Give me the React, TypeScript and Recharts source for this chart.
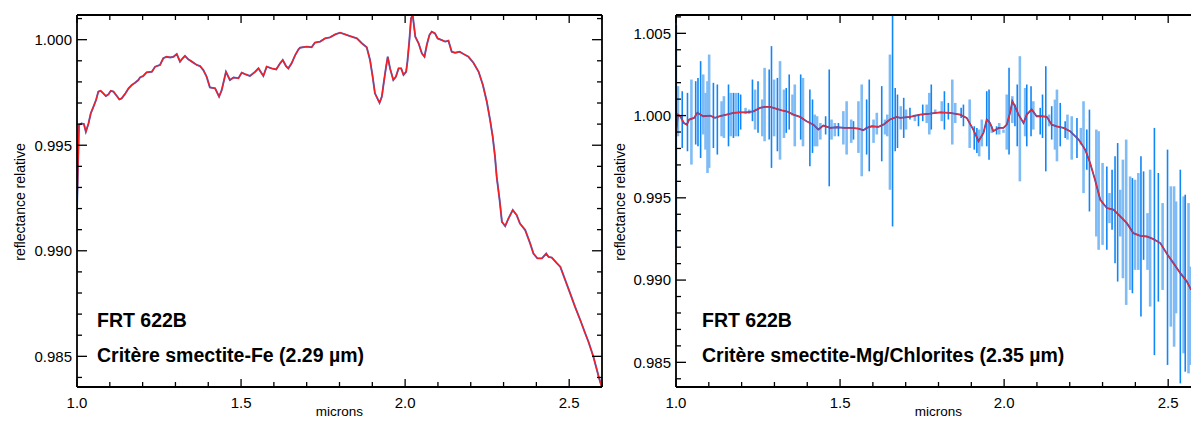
import { ComposedChart, Line, XAxis, YAxis, ErrorBar } from "recharts"

const FONT = '"Liberation Sans", Arial, Helvetica, sans-serif'

// wavelength (microns), relative reflectance -- critère smectite-Fe
const feSpectrum: [number, number][] = [
  [1.000, 0.99193], [1.006, 0.99596], [1.014, 0.99603], [1.021, 0.99600], [1.027, 0.99564],
  [1.035, 0.99603], [1.042, 0.99651], [1.050, 0.99682], [1.058, 0.99714], [1.065, 0.99754],
  [1.072, 0.99758], [1.080, 0.99746], [1.088, 0.99733], [1.096, 0.99741], [1.103, 0.99758],
  [1.111, 0.99754], [1.119, 0.99738], [1.129, 0.99717], [1.136, 0.99722], [1.146, 0.99742],
  [1.157, 0.99769], [1.167, 0.99785], [1.177, 0.99796], [1.187, 0.99809], [1.192, 0.99821],
  [1.202, 0.99828], [1.212, 0.99845], [1.228, 0.99848], [1.238, 0.99872], [1.253, 0.99880],
  [1.263, 0.99912], [1.273, 0.99919], [1.284, 0.99916], [1.294, 0.99919], [1.304, 0.99932],
  [1.314, 0.99896], [1.322, 0.99912], [1.329, 0.99923], [1.339, 0.99907], [1.350, 0.99896],
  [1.365, 0.99880], [1.375, 0.99875], [1.385, 0.99856], [1.395, 0.99825], [1.405, 0.99774],
  [1.421, 0.99769], [1.433, 0.99730], [1.441, 0.99761], [1.454, 0.99848], [1.466, 0.99809],
  [1.477, 0.99821], [1.492, 0.99817], [1.502, 0.99844], [1.512, 0.99837], [1.527, 0.99828],
  [1.543, 0.99848], [1.553, 0.99864], [1.568, 0.99828], [1.578, 0.99872], [1.593, 0.99864],
  [1.607, 0.99859], [1.619, 0.99888], [1.627, 0.99904], [1.637, 0.99875], [1.644, 0.99864],
  [1.654, 0.99888], [1.665, 0.99927], [1.675, 0.99954], [1.680, 0.99962], [1.700, 0.99967],
  [1.715, 0.99964], [1.725, 0.99986], [1.741, 0.99991], [1.756, 1.00006], [1.771, 1.00011],
  [1.787, 1.00025], [1.802, 1.00033], [1.817, 1.00025], [1.832, 1.00017], [1.853, 1.00006],
  [1.868, 0.99983], [1.883, 0.99964], [1.893, 0.99904], [1.901, 0.99825], [1.908, 0.99746],
  [1.922, 0.99701], [1.929, 0.99730], [1.936, 0.99809], [1.942, 0.99872], [1.947, 0.99919],
  [1.954, 0.99864], [1.964, 0.99809], [1.972, 0.99825], [1.980, 0.99864], [1.988, 0.99864],
  [1.995, 0.99833], [2.003, 0.99848], [2.007, 0.99896], [2.013, 0.99998], [2.018, 1.00101],
  [2.023, 1.00117], [2.031, 1.00014], [2.041, 0.99983], [2.051, 0.99935], [2.059, 0.99919],
  [2.066, 0.99975], [2.074, 1.00022], [2.081, 1.00038], [2.091, 1.00030], [2.099, 1.00006],
  [2.112, 0.99998], [2.122, 0.99991], [2.132, 0.99995], [2.142, 0.99943], [2.152, 0.99938],
  [2.166, 0.99943], [2.178, 0.99932], [2.193, 0.99919], [2.208, 0.99891], [2.224, 0.99848],
  [2.237, 0.99785], [2.249, 0.99706], [2.259, 0.99619], [2.267, 0.99540], [2.274, 0.99445],
  [2.279, 0.99351], [2.288, 0.99240], [2.295, 0.99137], [2.305, 0.99117], [2.315, 0.99153],
  [2.328, 0.99193], [2.340, 0.99169], [2.350, 0.99129], [2.366, 0.99098], [2.381, 0.99035],
  [2.391, 0.98987], [2.403, 0.98964], [2.417, 0.98964], [2.430, 0.98987], [2.437, 0.98971],
  [2.447, 0.98968], [2.463, 0.98940], [2.473, 0.98924], [2.488, 0.98861], [2.503, 0.98798],
  [2.518, 0.98734], [2.534, 0.98671], [2.549, 0.98608], [2.559, 0.98568], [2.574, 0.98497],
  [2.590, 0.98403], [2.600, 0.98350],
]

// smoothed spectrum -- critère smectite-Mg/Chlorites
const mgSpectrum: [number, number][] = [
  [1.000, 0.99895], [1.006, 1.00006], [1.013, 0.99996], [1.024, 0.99955], [1.033, 0.99945],
  [1.040, 0.99976], [1.055, 0.99986], [1.065, 1.00017], [1.083, 0.99996], [1.104, 1.00000],
  [1.119, 0.99986], [1.134, 0.99996], [1.154, 1.00006], [1.175, 1.00016], [1.195, 1.00020],
  [1.215, 1.00020], [1.236, 1.00026], [1.256, 1.00047], [1.271, 1.00053], [1.287, 1.00053],
  [1.307, 1.00041], [1.322, 1.00032], [1.337, 1.00026], [1.358, 1.00006], [1.378, 0.99992],
  [1.398, 0.99965], [1.419, 0.99945], [1.434, 0.99915], [1.449, 0.99939], [1.470, 0.99925],
  [1.490, 0.99929], [1.515, 0.99925], [1.536, 0.99925], [1.556, 0.99921], [1.571, 0.99911],
  [1.581, 0.99925], [1.597, 0.99935], [1.617, 0.99931], [1.632, 0.99945], [1.652, 0.99976],
  [1.673, 0.99992], [1.683, 0.99986], [1.713, 0.99992], [1.744, 1.00006], [1.774, 1.00012],
  [1.805, 1.00020], [1.835, 1.00016], [1.866, 1.00006], [1.886, 0.99986], [1.906, 0.99915],
  [1.922, 0.99844], [1.937, 0.99894], [1.947, 0.99976], [1.957, 0.99955], [1.967, 0.99905],
  [1.983, 0.99925], [1.998, 0.99925], [2.008, 0.99945], [2.018, 1.00016], [2.025, 1.00087],
  [2.033, 1.00057], [2.044, 1.00006], [2.059, 0.99955], [2.069, 1.00006], [2.084, 1.00037],
  [2.099, 0.99996], [2.115, 0.99996], [2.130, 0.99992], [2.145, 0.99945], [2.160, 0.99935],
  [2.181, 0.99925], [2.201, 0.99905], [2.227, 0.99854], [2.247, 0.99793], [2.262, 0.99712],
  [2.277, 0.99610], [2.293, 0.99488], [2.313, 0.99438], [2.333, 0.99428], [2.354, 0.99387],
  [2.374, 0.99346], [2.394, 0.99285], [2.415, 0.99269], [2.435, 0.99265], [2.455, 0.99249],
  [2.476, 0.99225], [2.496, 0.99160], [2.516, 0.99103], [2.537, 0.99042], [2.557, 0.98991],
  [2.570, 0.98940],
]

// error bars: wavelength, low, high, tone (d = vivid blue, l = pale blue)
const mgBars: [number, number, number, string][] = [
  [1.001, 0.99200, 1.00550, "d"], [1.006, 0.99874, 1.00179, "l"], [1.019, 0.99803, 1.00148, "d"],
  [1.035, 0.99783, 1.00138, "d"], [1.047, 0.99702, 1.00219, "l"], [1.060, 0.99824, 1.00209, "d"],
  [1.067, 0.99813, 1.00229, "d"], [1.075, 0.99742, 1.00331, "d"], [1.083, 0.99885, 1.00250, "l"],
  [1.090, 0.99793, 1.00138, "l"], [1.096, 0.99651, 1.00209, "l"], [1.101, 0.99682, 1.00371, "l"],
  [1.114, 0.99803, 1.00199, "d"], [1.126, 0.99763, 1.00189, "d"], [1.139, 0.99874, 1.00087, "l"],
  [1.146, 0.99864, 1.00118, "l"], [1.160, 0.99813, 1.00189, "d"], [1.167, 0.99874, 1.00138, "l"],
  [1.175, 0.99864, 1.00138, "d"], [1.182, 0.99874, 1.00138, "l"], [1.190, 0.99874, 1.00138, "d"],
  [1.197, 0.99915, 1.00128, "d"], [1.212, 1.00010, 1.00047, "l"], [1.223, 1.00010, 1.00037, "l"],
  [1.233, 0.99966, 1.00219, "d"], [1.241, 0.99915, 1.00158, "l"], [1.250, 0.99895, 1.00209, "d"],
  [1.263, 0.99874, 1.00098, "l"], [1.270, 0.99844, 1.00290, "l"], [1.284, 0.99854, 1.00280, "d"],
  [1.291, 0.99682, 1.00422, "d"], [1.299, 0.99874, 1.00219, "l"], [1.309, 0.99783, 1.00229, "d"],
  [1.317, 0.99732, 1.00331, "l"], [1.329, 0.99864, 1.00158, "l"], [1.336, 0.99895, 1.00168, "d"],
  [1.345, 0.99915, 1.00250, "d"], [1.355, 1.00000, 1.00128, "l"], [1.362, 0.99813, 1.00189, "l"],
  [1.380, 0.99854, 1.00250, "d"], [1.387, 0.99813, 1.00229, "l"], [1.408, 0.99692, 1.00158, "d"],
  [1.416, 0.99773, 1.00098, "d"], [1.423, 0.99813, 1.00006, "l"], [1.430, 0.99813, 0.99996, "l"],
  [1.440, 0.99854, 0.99955, "l"], [1.456, 0.99885, 0.99996, "d"], [1.467, 0.99570, 1.00280, "d"],
  [1.474, 0.99854, 0.99976, "l"], [1.484, 0.99874, 0.99955, "l"], [1.495, 0.99874, 0.99955, "d"],
  [1.510, 0.99824, 1.00027, "l"], [1.520, 0.99763, 1.00087, "l"], [1.534, 0.99834, 0.99976, "l"],
  [1.541, 0.99854, 0.99966, "d"], [1.556, 0.99773, 1.00087, "l"], [1.566, 0.99631, 1.00189, "l"],
  [1.581, 0.99763, 1.00098, "d"], [1.589, 0.99661, 1.00219, "d"], [1.602, 0.99834, 0.99976, "l"],
  [1.612, 0.99885, 1.00017, "l"], [1.627, 0.99722, 1.00179, "d"], [1.637, 0.99885, 0.99976, "l"],
  [1.644, 0.99874, 1.00006, "l"], [1.652, 0.99549, 1.00371, "l"], [1.660, 0.99326, 1.00611, "d"],
  [1.668, 0.99783, 1.00168, "d"], [1.675, 0.99803, 1.00128, "d"], [1.685, 0.99915, 1.00057, "l"],
  [1.694, 0.99864, 1.00108, "d"], [1.701, 0.99915, 1.00037, "l"], [1.713, 0.99976, 1.00047, "d"],
  [1.728, 0.99966, 1.00006, "l"], [1.739, 0.99935, 1.00006, "d"], [1.752, 0.99966, 1.00067, "d"],
  [1.764, 0.99955, 1.00067, "l"], [1.772, 0.99885, 1.00138, "l"], [1.778, 0.99915, 1.00189, "d"],
  [1.790, 1.00017, 1.00037, "l"], [1.810, 0.99966, 1.00087, "l"], [1.818, 0.99915, 1.00148, "d"],
  [1.830, 0.99976, 1.00077, "d"], [1.842, 0.99824, 1.00219, "l"], [1.851, 0.99955, 1.00077, "l"],
  [1.869, 0.99986, 1.00047, "d"], [1.876, 0.99935, 1.00067, "d"], [1.895, 0.99803, 1.00098, "l"],
  [1.909, 0.99793, 0.99935, "d"], [1.917, 0.99773, 0.99925, "d"], [1.924, 0.99752, 0.99915, "l"],
  [1.932, 0.99813, 0.99976, "l"], [1.947, 0.99813, 1.00148, "d"], [1.954, 0.99732, 1.00158, "d"],
  [1.962, 0.99895, 0.99935, "l"], [1.977, 0.99885, 0.99935, "d"], [1.985, 0.99885, 0.99955, "l"],
  [1.998, 0.99895, 0.99915, "l"], [2.008, 0.99793, 1.00128, "l"], [2.015, 0.99763, 1.00290, "d"],
  [2.025, 0.99955, 1.00118, "l"], [2.033, 0.99935, 1.00067, "d"], [2.040, 0.99813, 1.00189, "d"],
  [2.048, 0.99600, 1.00361, "l"], [2.064, 0.99874, 1.00168, "l"], [2.069, 0.99813, 1.00189, "d"],
  [2.082, 0.99874, 1.00179, "d"], [2.089, 0.99915, 1.00087, "l"], [2.110, 0.99885, 1.00047, "d"],
  [2.117, 0.99864, 1.00128, "d"], [2.127, 0.99661, 1.00300, "d"], [2.137, 0.99935, 1.00006, "l"],
  [2.145, 0.99854, 1.00057, "d"], [2.155, 0.99793, 1.00097, "l"], [2.161, 0.99722, 1.00158, "l"],
  [2.171, 0.99813, 1.00077, "d"], [2.186, 0.99864, 0.99965, "d"], [2.193, 0.99854, 1.00006, "l"],
  [2.206, 0.99732, 0.99996, "l"], [2.222, 0.99742, 0.99986, "d"], [2.234, 0.99823, 0.99925, "l"],
  [2.242, 0.99529, 1.00087, "l"], [2.252, 0.99671, 0.99915, "d"], [2.260, 0.99417, 1.00036, "d"],
  [2.281, 0.99265, 0.99915, "l"], [2.288, 0.99184, 0.99905, "l"], [2.300, 0.99214, 0.99712, "l"],
  [2.313, 0.99184, 0.99691, "d"], [2.321, 0.99346, 0.99529, "l"], [2.329, 0.99306, 0.99671, "d"],
  [2.338, 0.99103, 0.99752, "d"], [2.346, 0.98991, 0.99833, "d"], [2.354, 0.99265, 0.99549, "l"],
  [2.362, 0.99011, 0.99732, "l"], [2.372, 0.98849, 0.99854, "l"], [2.384, 0.98940, 0.99630, "l"],
  [2.391, 0.98920, 0.99620, "d"], [2.399, 0.99062, 0.99610, "l"], [2.409, 0.99062, 0.99651, "l"],
  [2.417, 0.98778, 0.99752, "d"], [2.425, 0.99123, 0.99661, "d"], [2.437, 0.99062, 0.99407, "l"],
  [2.445, 0.98839, 0.99671, "l"], [2.458, 0.98544, 0.99925, "d"], [2.470, 0.98869, 0.99651, "d"],
  [2.483, 0.98940, 0.99468, "l"], [2.498, 0.98484, 0.99793, "d"], [2.508, 0.98717, 0.99570, "l"],
  [2.518, 0.98595, 0.99570, "l"], [2.524, 0.98798, 0.99478, "l"], [2.537, 0.98372, 0.99671, "d"],
  [2.547, 0.98555, 0.99509, "l"], [2.552, 0.98443, 0.99519, "d"], [2.562, 0.98433, 0.99468, "l"],
  [2.567, 0.98484, 0.99082, "l"],
]

const xTicks = [1.0, 1.1, 1.2, 1.3, 1.4, 1.5, 1.6, 1.7, 1.8, 1.9, 2.0, 2.1, 2.2, 2.3, 2.4, 2.5, 2.6]
const xLabels = [1.0, 1.5, 2.0, 2.5]
const feYTicks = [0.984, 0.985, 0.986, 0.987, 0.988, 0.989, 0.99, 0.991, 0.992, 0.993, 0.994, 0.995, 0.996, 0.997, 0.998, 0.999, 1.0, 1.001]
const feYLabels = [0.985, 0.99, 0.995, 1.0]
const mgYTicks = [0.984, 0.985, 0.986, 0.987, 0.988, 0.989, 0.99, 0.991, 0.992, 0.993, 0.994, 0.995, 0.996, 0.997, 0.998, 0.999, 1.0, 1.001, 1.002, 1.003, 1.004, 1.005, 1.006]
const mgYLabels = [0.985, 0.99, 0.995, 1.0, 1.005]

const feData = feSpectrum.map(([x, y]) => ({ x, y }))
const mgData = mgSpectrum.map(([x, y]) => ({ x, y }))
const barData = mgBars.map(([x, lo, hi, tone]) => ({ x, y: (lo + hi) / 2, err: (hi - lo) / 2, tone }))
const paleBars = barData.filter((b) => b.tone === "l")
const vividBars = barData.filter((b) => b.tone === "d")

const near = (v: number, list: number[]) => list.some((l) => Math.abs(l - v) < 1e-6)
const frame = { stroke: "#000", strokeWidth: 1.8 }

const LeftTick = (p: any) => {
  const v = p.payload.value
  const major = near(v, p.labels)
  return (
    <g>
      <line x1={p.x} x2={p.x + (major ? 10 : 5)} y1={p.y} y2={p.y} stroke="#000" strokeWidth={1.3} />
      {major && (
        <text x={p.x - 5} y={p.y + 5.3} textAnchor="end" fontSize={15} fontFamily={FONT} fill="#000">
          {v.toFixed(3)}
        </text>
      )}
    </g>
  )
}

const RightTick = (p: any) => {
  const major = near(p.payload.value, p.labels)
  return <line x1={p.x} x2={p.x - (major ? 10 : 5)} y1={p.y} y2={p.y} stroke="#000" strokeWidth={1.3} />
}

const BottomTick = (p: any) => {
  const v = p.payload.value
  const major = near(v, xLabels)
  return (
    <g>
      <line x1={p.x} x2={p.x} y1={p.y} y2={p.y - (major ? 8 : 5)} stroke="#000" strokeWidth={1.3} />
      {major && (
        <text x={p.x} y={p.y + 21} textAnchor="middle" fontSize={15} fontFamily={FONT} fill="#000">
          {v.toFixed(1)}
        </text>
      )}
    </g>
  )
}

const TopTick = (p: any) => {
  const major = near(p.payload.value, xLabels)
  return <line x1={p.x} x2={p.x} y1={p.y} y2={p.y + (major ? 8 : 5)} stroke="#000" strokeWidth={1.3} />
}

const axes = (domain: number[], yTicks: number[], yLabels: number[], yWidth: number) => [
  <XAxis key="xb" xAxisId="b" type="number" dataKey="x" domain={[1, 2.6]} ticks={xTicks} interval={0}
    allowDataOverflow height={1} tickSize={0} tickMargin={0} tickLine={false} axisLine={frame}
    tick={(p: any) => <BottomTick {...p} />} />,
  <XAxis key="xt" xAxisId="t" orientation="top" type="number" dataKey="x" domain={[1, 2.6]} ticks={xTicks}
    interval={0} allowDataOverflow height={1} tickSize={0} tickMargin={0} tickLine={false} axisLine={frame}
    tick={(p: any) => <TopTick {...p} />} />,
  <YAxis key="yl" yAxisId="l" type="number" domain={domain} ticks={yTicks} interval={0} allowDataOverflow
    width={yWidth} tickSize={0} tickMargin={0} tickLine={false} axisLine={frame}
    tick={(p: any) => <LeftTick {...p} labels={yLabels} />} />,
  <YAxis key="yr" yAxisId="r" orientation="right" type="number" domain={domain} ticks={yTicks} interval={0}
    allowDataOverflow width={1} tickSize={0} tickMargin={0} tickLine={false} axisLine={frame}
    tick={(p: any) => <RightTick {...p} labels={yLabels} />} />,
]

const txt = { fontFamily: FONT, fill: "#000" }

export default function App() {
  return (
    <div style={{ position: "absolute", left: 0, top: 0, width: 1191, height: 421, overflow: "hidden", background: "#fff" }}>
      <div style={{ position: "absolute", left: 0, top: 0 }}>
        <ComposedChart width={612} height={421} margin={{ top: 14, right: 9, bottom: 33, left: 0 }}>
          {axes([0.983547, 1.001169], feYTicks, feYLabels, 77)}
          <Line xAxisId="b" yAxisId="l" data={feData} dataKey="y" type="linear" stroke="#3b6fdc" strokeWidth={1.9}
            dot={false} activeDot={false} isAnimationActive={false} />
          <Line xAxisId="b" yAxisId="l" data={feData} dataKey="y" type="linear" stroke="#ff1a1a" strokeWidth={1.3}
            dot={false} activeDot={false} isAnimationActive={false} />
        </ComposedChart>
      </div>
      <div style={{ position: "absolute", left: 610, top: 0 }}>
        <ComposedChart width={601} height={421} margin={{ top: 14, right: 9, bottom: 33, left: 0 }}>
          {axes([0.9835, 1.006114], mgYTicks, mgYLabels, 66)}
          <Line xAxisId="b" yAxisId="l" data={paleBars} dataKey="y" stroke="none" dot={false} activeDot={false}
            isAnimationActive={false}>
            <ErrorBar dataKey="err" direction="y" width={0} stroke="#7fbcf6" strokeWidth={2.6} isAnimationActive={false} />
          </Line>
          <Line xAxisId="b" yAxisId="l" data={vividBars} dataKey="y" stroke="none" dot={false} activeDot={false}
            isAnimationActive={false}>
            <ErrorBar dataKey="err" direction="y" width={0} stroke="#1286f5" strokeWidth={1.6} isAnimationActive={false} />
          </Line>
          <Line xAxisId="b" yAxisId="l" data={mgData} dataKey="y" type="linear" stroke="#4a46a6" strokeWidth={1.8}
            dot={false} activeDot={false} isAnimationActive={false} />
          <Line xAxisId="b" yAxisId="l" data={mgData} dataKey="y" type="linear" stroke="#ff2a2a" strokeWidth={1}
            dot={false} activeDot={false} isAnimationActive={false} />
        </ComposedChart>
      </div>
      <svg width={1191} height={421} style={{ position: "absolute", left: 0, top: 0, pointerEvents: "none" }}>
        <text transform="translate(25,202) rotate(-90)" textAnchor="middle" fontSize={14} {...txt}>reflectance relative</text>
        <text transform="translate(625,202) rotate(-90)" textAnchor="middle" fontSize={14} {...txt}>reflectance relative</text>
        <text x={339.5} y={416} textAnchor="middle" fontSize={13.5} {...txt}>microns</text>
        <text x={938.5} y={416} textAnchor="middle" fontSize={13.5} {...txt}>microns</text>
        <text x={97} y={327} fontSize={19.5} fontWeight="bold" {...txt}>FRT 622B</text>
        <text x={97} y={362} fontSize={19.5} fontWeight="bold" {...txt}>Critère smectite-Fe (2.29 µm)</text>
        <text x={702} y={327} fontSize={19.5} fontWeight="bold" {...txt}>FRT 622B</text>
        <text x={702} y={362} fontSize={19.5} fontWeight="bold" {...txt}>Critère smectite-Mg/Chlorites (2.35 µm)</text>
      </svg>
    </div>
  )
}
